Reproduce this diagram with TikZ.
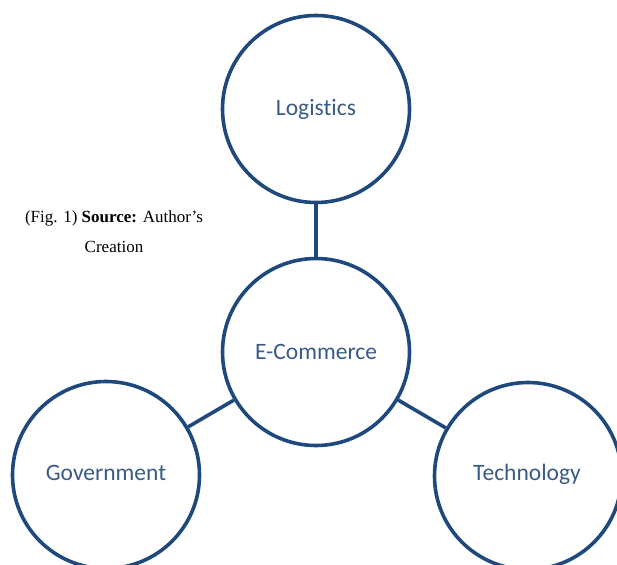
\documentclass[tikz,border=0pt]{standalone}
\usepackage{fontspec}
\setmainfont{Liberation Serif}
\newfontfamily\calib[RawFeature={-liga;-dlig}]{Carlito}
\definecolor{ringblue}{RGB}{31,73,125}
\definecolor{txtblue}{RGB}{58,90,135}
\begin{document}
\begin{tikzpicture}[x=1pt,y=-1pt,
  ring/.style={circle, draw=ringblue, line width=3.6pt, minimum size=187pt, inner sep=0pt,
    font=\calib\fontsize{23.5}{28}\selectfont, text=txtblue},
  lbl/.style={font=\calib\fontsize{23.5}{28}\selectfont, text=txtblue},
  link/.style={draw=ringblue, line width=3.6pt}]
\useasboundingbox (0,0) rectangle (617,564);
\clip (0,0) rectangle (617,564);
\node[ring] (log) at (316,109) {Logistics};
\node[ring] (eco) at (316,352) {E-Commerce};
\node[ring] (gov) at (106,475) {};
\node[ring] (tec) at (528,476) {};
\node[lbl] (govt) at (106,473) {Government};
\node[lbl] (tect) at (527,474) {Technology};
\draw[link] (log) -- (eco);
\draw[link] (eco) -- (gov);
\draw[link] (eco) -- (tec);
\node[align=center, font=\fontsize{17}{30}\selectfont, inner sep=0pt] (cap) at (114,232)
  {(Fig. 1) \textbf{Source:} Author's\\Creation};
\end{tikzpicture}
\end{document}
